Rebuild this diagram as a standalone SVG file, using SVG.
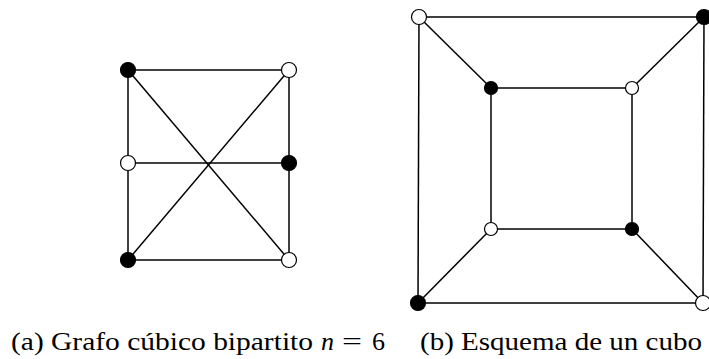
<svg xmlns="http://www.w3.org/2000/svg" width="709" height="359" viewBox="0 0 709 359">
<style>
.e{stroke:#000;stroke-width:1.5;fill:none}
.b{fill:#000;stroke:#000;stroke-width:1.2}
.w{fill:#fff;stroke:#000;stroke-width:1.2}
.t{font-family:"Liberation Serif",serif;font-size:26px;fill:#000}
</style>
<rect width="709" height="359" fill="#fff"/>
<g id="connectors">
<line class="e" x1="128" y1="70" x2="289" y2="70"/>
<line class="e" x1="128" y1="163" x2="289" y2="163"/>
<line class="e" x1="128" y1="260" x2="289" y2="260"/>
<line class="e" x1="128" y1="70" x2="128" y2="260"/>
<line class="e" x1="289" y1="70" x2="289" y2="260"/>
<line class="e" x1="128" y1="70" x2="289" y2="260"/>
<line class="e" x1="289" y1="70" x2="128" y2="260"/>
<line class="e" x1="419" y1="17" x2="704" y2="17"/>
<line class="e" x1="418" y1="303" x2="703" y2="303"/>
<line class="e" x1="419" y1="17" x2="418" y2="303"/>
<line class="e" x1="704" y1="17" x2="703" y2="303"/>
<line class="e" x1="491" y1="88" x2="632" y2="88"/>
<line class="e" x1="491" y1="229" x2="632" y2="229"/>
<line class="e" x1="491" y1="88" x2="491" y2="229"/>
<line class="e" x1="632" y1="88" x2="632" y2="229"/>
<line class="e" x1="419" y1="17" x2="491" y2="88"/>
<line class="e" x1="704" y1="17" x2="632" y2="88"/>
<line class="e" x1="418" y1="303" x2="491" y2="229"/>
<line class="e" x1="703" y1="303" x2="632" y2="229"/>
</g>
<g id="a1"><circle class="b" cx="128" cy="70" r="7.5"/></g>
<g id="a2"><circle class="w" cx="289" cy="70" r="7.5"/></g>
<g id="a3"><circle class="w" cx="128" cy="163" r="7.5"/></g>
<g id="a4"><circle class="b" cx="289" cy="163" r="7.5"/></g>
<g id="a5"><circle class="b" cx="128" cy="260" r="7.5"/></g>
<g id="a6"><circle class="w" cx="289" cy="260" r="7.5"/></g>
<g id="b1"><circle class="w" cx="419" cy="17" r="7.5"/></g>
<g id="b2"><circle class="b" cx="704" cy="17" r="7.5"/></g>
<g id="b3"><circle class="b" cx="418" cy="303" r="7.5"/></g>
<g id="b4"><circle class="w" cx="703" cy="303" r="7.5"/></g>
<g id="b5"><circle class="b" cx="491" cy="88" r="6.5"/></g>
<g id="b6"><circle class="w" cx="632" cy="88" r="6.5"/></g>
<g id="b7"><circle class="w" cx="491" cy="229" r="6.5"/></g>
<g id="b8"><circle class="b" cx="632" cy="229" r="6.5"/></g>
<text class="t" x="11" y="350" textLength="302" lengthAdjust="spacingAndGlyphs">(a) Grafo cúbico bipartito</text>
<text class="t" x="321" y="350" font-style="italic" textLength="13" lengthAdjust="spacingAndGlyphs">n</text>
<text class="t" x="342" y="350" textLength="20" lengthAdjust="spacingAndGlyphs">=</text>
<text class="t" x="372" y="350" textLength="13" lengthAdjust="spacingAndGlyphs">6</text>
<text class="t" x="420" y="350" textLength="282" lengthAdjust="spacingAndGlyphs">(b) Esquema de un cubo</text>
</svg>
